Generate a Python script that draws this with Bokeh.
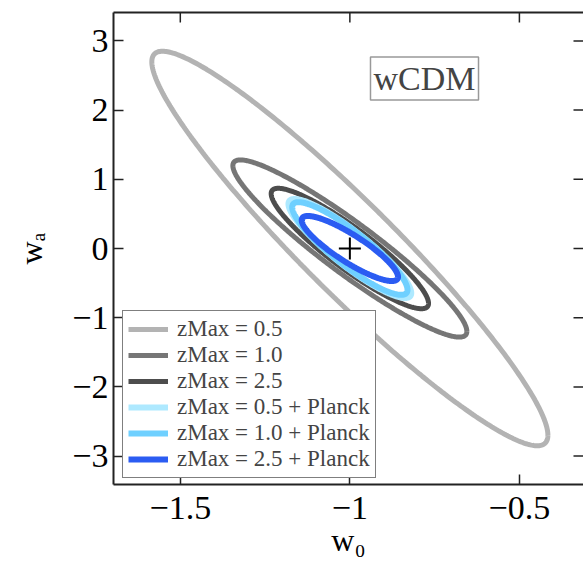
import numpy as np
from bokeh.plotting import figure
from bokeh.models import (Range1d, LinearAxis, FixedTicker, Label, Legend, LegendItem)
from bokeh.embed import file_html
from bokeh.resources import INLINE

# ---- data ----
fiducial_w0 = [-1.0]
fiducial_wa = [0.0]
labels = ["zMax = 0.5", "zMax = 1.0", "zMax = 2.5",
          "zMax = 0.5 + Planck", "zMax = 1.0 + Planck", "zMax = 2.5 + Planck"]
# half extents of each contour along w0 and wa, and the w0-wa correlation
half_w0 = [0.584, 0.345, 0.232, 0.181, 0.170, 0.142]
half_wa = [2.85, 1.28, 0.87, 0.715, 0.67, 0.47]
corr = [-0.946, -0.935, -0.91, -0.90, -0.89, -0.87]
colors = ["#b3b3b3", "#767676", "#4d4d4d", "#aee9ff", "#6fd0ff", "#2b5cf2"]
widths = [5, 5, 5, 6, 6, 6]

x_ticks = [-1.5, -1.0, -0.5]
x_tick_labels = ["\u22121.5", "\u22121", "\u22120.5"]
y_ticks = [-3, -2, -1, 0, 1, 2, 3]
y_tick_labels = ["\u22123", "\u22122", "\u22121", "0", "1", "2", "3"]

FONT = "Liberation Serif"

xr = Range1d(-1.697, -0.311)
yr = Range1d(-3.41, 3.41)
p = figure(width=583, height=570, output_backend="svg", toolbar_location=None,
           x_range=xr, y_range=yr,
           x_axis_location=None, y_axis_location=None,
           min_border_left=113, min_border_right=0, min_border_top=12, min_border_bottom=86)
p.outline_line_color = None
p.xgrid.visible = False
p.ygrid.visible = False


def style_axis(ax, ticks, overrides):
    ax.ticker = FixedTicker(ticks=ticks)
    ax.major_label_overrides = {t: s for t, s in zip(ticks, overrides)}
    ax.major_tick_in = 10
    ax.major_tick_out = 0
    ax.major_tick_line_width = 1.5
    ax.major_tick_line_color = "#222222"
    ax.minor_tick_line_color = None
    ax.axis_line_color = "#222222"
    ax.axis_line_width = 2
    ax.major_label_text_font = FONT
    ax.major_label_text_color = "black"
    ax.major_label_text_font_size = "34px"
    ax.axis_label_text_font = FONT
    ax.axis_label_text_font_style = "normal"
    ax.axis_label_text_font_size = "32px"
    ax.axis_label_text_color = "black"


bottom = LinearAxis(axis_label="w\u2080")
style_axis(bottom, x_ticks, x_tick_labels)
bottom.major_label_standoff = 12
bottom.axis_label_standoff = 0
p.add_layout(bottom, "below")

left = LinearAxis(axis_label="w\u2090")
style_axis(left, y_ticks, y_tick_labels)
left.major_label_standoff = 5
left.axis_label_standoff = 20
p.add_layout(left, "left")

top = LinearAxis(ticker=FixedTicker(ticks=[]), axis_line_color="#222222", axis_line_width=2,
                 major_tick_line_color=None, minor_tick_line_color=None)
p.add_layout(top, "above")

# inward ticks on the top and right edges (half of each dash is clipped by the frame)
p.scatter(x_ticks, [yr.end] * len(x_ticks), marker="dash", size=20, angle=np.pi / 2,
          line_color="#222222", line_width=1.5)
p.scatter([xr.end] * len(y_ticks), y_ticks, marker="dash", size=20,
          line_color="#222222", line_width=1.5)

# ---- contours ----
t = np.linspace(0, 2 * np.pi, 400)
items = []
for lab, a, b, r, c, w in zip(labels, half_w0, half_wa, corr, colors, widths):
    xs = fiducial_w0[0] + a * np.cos(t)
    ys = fiducial_wa[0] + b * (r * np.cos(t) + np.sqrt(1 - r * r) * np.sin(t))
    rend = p.line(xs, ys, line_color=c, line_width=w)
    items.append(LegendItem(label=lab, renderers=[rend]))

p.scatter(fiducial_w0, fiducial_wa, marker="cross", size=22, line_width=2, line_color="black")

legend = Legend(items=items, location=(9, 6), margin=0, padding=5, spacing=0,
                label_height=26, glyph_height=26, glyph_width=40, label_standoff=9,
                label_text_font=FONT, label_text_font_size="23px",
                border_line_color="black", border_line_width=1.5,
                background_fill_color="white", background_fill_alpha=1)
p.add_layout(legend, "center")

# ---- annotation ----
p.add_layout(Label(x=311, y=406, x_units="screen", y_units="screen", text="wCDM",
                   text_font=FONT, text_font_size="34px", text_align="center",
                   text_baseline="middle", border_line_color="#999999", border_line_width=1.5,
                   background_fill_color="white", padding=3))

open("out.html", "w").write(file_html(p, INLINE))
